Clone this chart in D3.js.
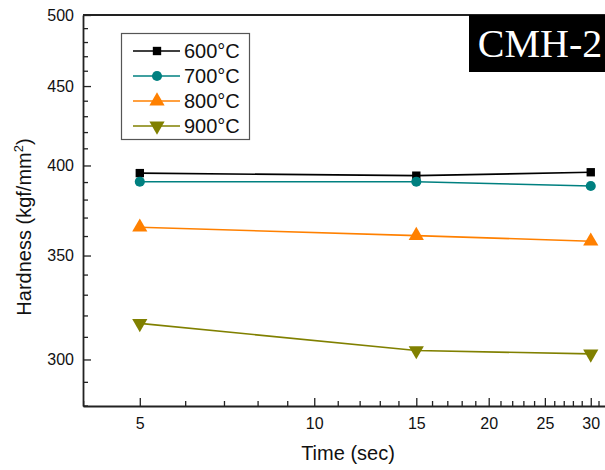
<!DOCTYPE html>
<html>
<head>
<meta charset="utf-8">
<script src="https://cdn.jsdelivr.net/npm/d3@7"></script>
<style>
  body { margin: 0; background: #fff; }
  svg { display: block; font-family: Arial, "Liberation Sans", sans-serif; }
</style>
</head>
<body>
<div id="chart"></div>
<script>
// data
const times = [5, 15, 30];
const seriesNames = ['600°C', '700°C', '800°C', '900°C'];
const hard600 = [395.5, 394, 396];
const hard700 = [390.5, 390.5, 388];
const hard800 = [365, 360.5, 357.5];
const hard900 = [316.5, 304, 302.5];
const xTicks = [5, 10, 15, 20, 25, 30];
const yTicks = [300, 350, 400, 450, 500];

const colors = ['#000000', '#008080', '#ff8000', '#808000'];
const symbols = [d3.symbolSquare, d3.symbolCircle, d3.symbolTriangle, d3.symbolTriangle];
const symSizes = [70, 80, 100, 100];
const allSeries = [hard600, hard700, hard800, hard900];

const W = 605, H = 470;
const margin = {top: 15, left: 83, bottom: 64};

let svg = d3.select('#chart').append('svg')
  .attr('width', W)
  .attr('height', H);

let x = d3.scaleLog()
  .domain([3.99, 32])
  .range([margin.left, 607]);

let y = d3.scaleLog()
  .domain([280, 500])
  .range([H - margin.bottom, margin.top]);

// minor ticks every integer on x, every 10 on y
let xMinor = d3.range(4, 33).filter(v => xTicks.indexOf(v) < 0);
let yMinor = d3.range(280, 501, 10).filter(v => yTicks.indexOf(v) < 0);

let axisColor = '#222';

// x axis (ticks inward)
let gx = svg.append('g')
  .attr('transform', 'translate(0,' + (H - margin.bottom) + ')');
gx.call(d3.axisBottom(x).tickValues(xTicks).tickFormat(d3.format('d')).tickSizeInner(-8).tickSizeOuter(0).tickPadding(12));
xMinor.forEach(function(v) {
  gx.append('line')
    .attr('x1', x(v)).attr('x2', x(v))
    .attr('y1', 0).attr('y2', -5)
    .attr('stroke', axisColor).attr('stroke-width', 1.3);
});

// y axis (ticks inward)
let gy = svg.append('g')
  .attr('transform', 'translate(' + margin.left + ',0)');
gy.call(d3.axisLeft(y).tickValues(yTicks).tickFormat(d3.format('d')).tickSizeInner(-8).tickSizeOuter(0).tickPadding(9));
yMinor.forEach(function(v) {
  gy.append('line')
    .attr('x1', 0).attr('x2', 5)
    .attr('y1', y(v)).attr('y2', y(v))
    .attr('stroke', axisColor).attr('stroke-width', 1.3);
});

svg.selectAll('.domain').attr('stroke', axisColor).attr('stroke-width', 1.8);
svg.selectAll('.tick line').attr('stroke', axisColor).attr('stroke-width', 1.3);
svg.selectAll('.tick text')
  .attr('font-size', 16)
  .attr('font-family', 'Arial, "Liberation Sans", sans-serif')
  .attr('fill', '#111');

// top frame
svg.append('line')
  .attr('x1', margin.left).attr('x2', 607)
  .attr('y1', margin.top).attr('y2', margin.top)
  .attr('stroke', axisColor).attr('stroke-width', 1.8);

// series
let line = d3.line()
  .x((d, i) => x(times[i]))
  .y(d => y(d));

allSeries.forEach(function(vals, k) {
  svg.append('path')
    .datum(vals)
    .attr('fill', 'none')
    .attr('stroke', colors[k])
    .attr('stroke-width', 1.6)
    .attr('d', line);
  svg.selectAll('.pt' + k)
    .data(vals)
    .enter().append('path')
    .attr('class', 'pt' + k)
    .attr('d', d3.symbol().type(symbols[k]).size(symSizes[k]))
    .attr('transform', function(d, i) {
      let rot = k === 3 ? ' rotate(180)' : '';
      return 'translate(' + x(times[i]) + ',' + y(d) + ')' + rot;
    })
    .attr('fill', colors[k]);
});

// legend
let legend = svg.append('g');
legend.append('rect')
  .attr('x', 121.5).attr('y', 33.5)
  .attr('width', 128).attr('height', 106)
  .attr('fill', '#fff')
  .attr('stroke', '#555')
  .attr('stroke-width', 1.2);

seriesNames.forEach(function(name, k) {
  let ly = 51 + k * 25;
  legend.append('line')
    .attr('x1', 133).attr('x2', 180)
    .attr('y1', ly).attr('y2', ly)
    .attr('stroke', colors[k]).attr('stroke-width', 1.6);
  legend.append('path')
    .attr('d', d3.symbol().type(symbols[k]).size(symSizes[k]))
    .attr('transform', 'translate(157,' + ly + ')' + (k === 3 ? ' rotate(180)' : ''))
    .attr('fill', colors[k]);
  legend.append('text')
    .attr('x', 184).attr('y', ly + 7)
    .attr('font-size', 20)
    .attr('fill', '#111')
    .text(name);
});

// sample label box
svg.append('rect')
  .attr('x', 469).attr('y', 15)
  .attr('width', 140).attr('height', 57)
  .attr('fill', '#000');
svg.append('text')
  .attr('x', 540).attr('y', 57)
  .attr('text-anchor', 'middle')
  .attr('font-family', '"Liberation Serif", "Times New Roman", serif')
  .attr('font-size', 40)
  .attr('fill', '#fff')
  .text('CMH-2');

// axis titles
svg.append('text')
  .attr('x', 348).attr('y', 460)
  .attr('text-anchor', 'middle')
  .attr('font-size', 20)
  .attr('fill', '#111')
  .text('Time (sec)');

let yt = svg.append('text')
  .attr('transform', 'translate(31,227) rotate(-90)')
  .attr('text-anchor', 'middle')
  .attr('font-size', 20)
  .attr('fill', '#111');
yt.append('tspan').text('Hardness (kgf/mm');
yt.append('tspan').attr('font-size', 13).attr('dy', -8).text('2');
yt.append('tspan').attr('dy', 8).text(')');
</script>
</body>
</html>
